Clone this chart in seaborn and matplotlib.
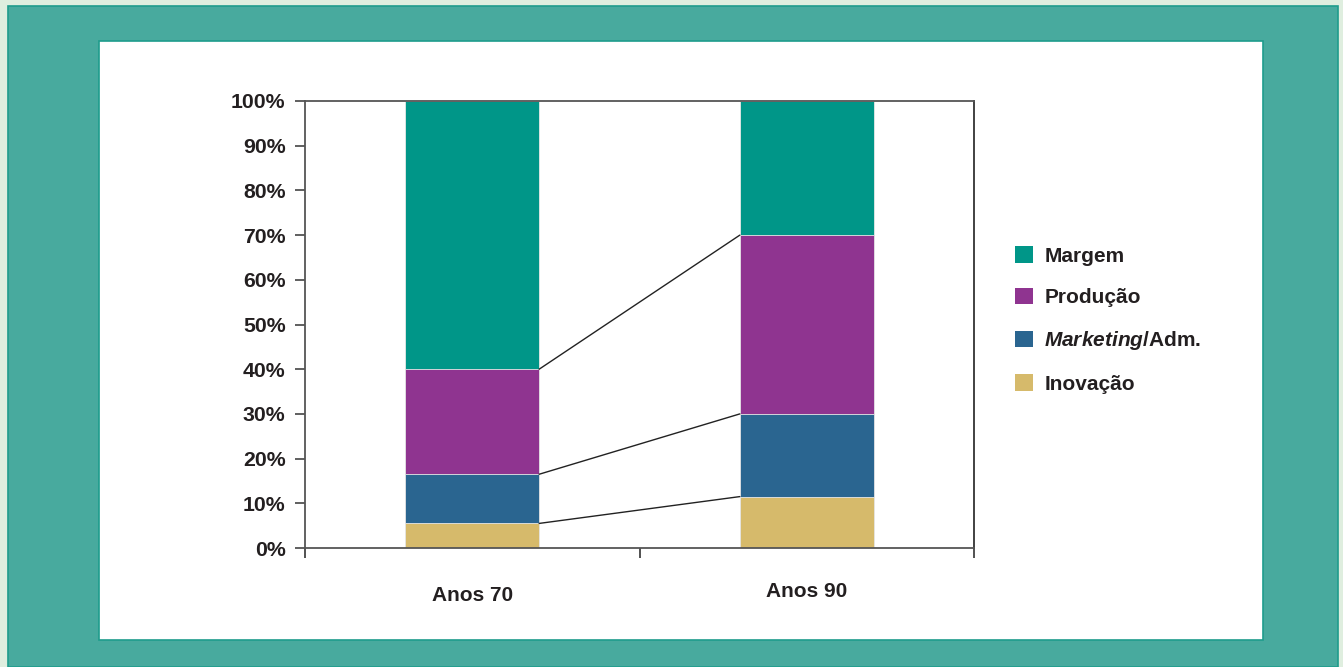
import matplotlib
matplotlib.use("Agg")
import matplotlib.pyplot as plt
from matplotlib.patches import Rectangle, Patch
from matplotlib.ticker import FixedLocator
import seaborn as sns
import pandas as pd

# ---- data ----
periods = ["Anos 70", "Anos 90"]
series_names = ["Inovação", "Marketing/Adm.", "Produção", "Margem"]
inovacao = [5.5, 11.5]
marketing = [11.0, 18.5]
producao = [23.5, 40.0]
margem = [60.0, 30.0]
legend_labels = ["Margem", "Produção", r"$\mathbfit{Marketing}$/Adm.", "Inovação"]
y_ticks = [0, 10, 20, 30, 40, 50, 60, 70, 80, 90, 100]

colors = {
    "Inovação": "#D6BA6B",
    "Marketing/Adm.": "#2A6590",
    "Produção": "#8F3490",
    "Margem": "#009688",
}

sns.set_theme(style="white")
plt.rcParams["font.family"] = ["Liberation Sans", "DejaVu Sans"]
plt.rcParams["font.weight"] = "bold"
plt.rcParams["mathtext.fontset"] = "custom"
plt.rcParams["mathtext.it"] = "Liberation Sans:italic:bold"
plt.rcParams["mathtext.bfit"] = "Liberation Sans:italic:bold"
plt.rcParams["mathtext.bf"] = "Liberation Sans:bold"

W, H = 1343, 667
fig = plt.figure(figsize=(W / 100, H / 100), dpi=100)
fig.patch.set_facecolor("#DFEEDF")

# background frames
fig.patches.append(Rectangle((8 / W, 0), (1338 - 8) / W, (H - 6) / H,
                             transform=fig.transFigure, facecolor="#48AA9E",
                             edgecolor="#1E9C8C", linewidth=1.2, zorder=-10))
fig.patches.append(Rectangle((99 / W, 1 - 640 / H), (1263 - 99) / W, (640 - 41) / H,
                             transform=fig.transFigure, facecolor="white",
                             edgecolor="#1E9C8C", linewidth=1.2, zorder=-9))

ax = fig.add_axes([305 / W, 1 - 548 / H, (974 - 305) / W, (548 - 101) / H])
ax.set_facecolor("none")

df = pd.DataFrame({
    "periodo": periods,
    "Inovação": inovacao,
    "Marketing/Adm.": marketing,
    "Produção": producao,
    "Margem": margem,
})
cum = df[series_names].cumsum(axis=1)

# stacked bars drawn from the top total down
for name in reversed(series_names):
    sns.barplot(x=df["periodo"], y=cum[name], order=periods, color=colors[name],
                width=0.4, ax=ax, edgecolor="#E8E8E8", linewidth=0.6,
                saturation=1, zorder=2)

# connecting lines between bar segment boundaries
for name in series_names[:-1]:
    vals = cum[name].values
    ax.plot([0.2, 0.8], [vals[0], vals[1]], color="#222222", linewidth=1.0, zorder=3)

ax.set_xlim(-0.5, 1.5)
ax.set_ylim(0, 100)
ax.set_xlabel("")
ax.set_ylabel("")

ax.yaxis.set_major_locator(FixedLocator(y_ticks))
ax.set_yticklabels([f"{v}%" for v in y_ticks])
ax.tick_params(axis="y", direction="out", length=7, width=1.2, color="#444444",
               pad=7, labelsize=15.3, left=True, labelcolor="#231F20")

ax.set_xticks([0, 1])
ax.set_xticklabels(periods)
ax.xaxis.set_minor_locator(FixedLocator([-0.5, 0.5, 1.5]))
ax.tick_params(axis="x", which="major", length=0, labelsize=15, labelcolor="#231F20")
ax.tick_params(axis="x", which="minor", direction="out", length=7.5, width=1.2,
               color="#333333", bottom=True)
ticks = ax.xaxis.get_major_ticks()
ticks[0].set_pad(27.5)
ticks[1].set_pad(24.5)
for lab in ax.get_xticklabels() + ax.get_yticklabels():
    lab.set_fontweight("bold")

for s in ax.spines.values():
    s.set_visible(True)
    s.set_color("#555555")
    s.set_linewidth(1.3)
    s.set_zorder(4)
ax.spines["right"].set_color("#333333")

handles = [Patch(facecolor=colors[n], edgecolor="none") for n in
           ["Margem", "Produção", "Marketing/Adm.", "Inovação"]]
leg = fig.legend(handles, legend_labels, loc="upper left",
                 bbox_to_anchor=(1015 / W, 1 - 246 / H), frameon=False,
                 prop={"size": 15, "weight": "bold"}, handlelength=0.85,
                 handleheight=0.85, handletextpad=0.55, labelspacing=1.06,
                 borderpad=0, borderaxespad=0)
for t in leg.get_texts():
    t.set_color("#231F20")

fig.savefig("out.png", dpi=100, facecolor=fig.get_facecolor())
